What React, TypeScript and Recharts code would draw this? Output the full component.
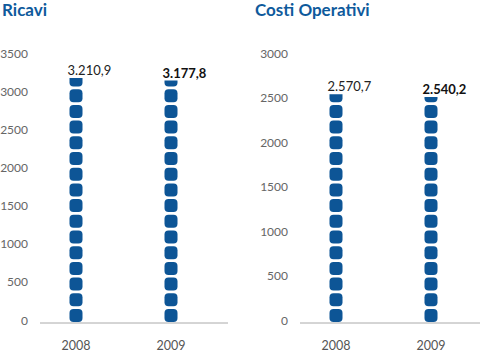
import React from "react";
import { BarChart, Bar, XAxis, YAxis, LabelList } from "recharts";

const years = ["2008", "2009"];
const ricavi = [3210.9, 3177.8];
const costi = [2570.7, 2540.2];
const ricaviTicks = [0, 500, 1000, 1500, 2000, 2500, 3000, 3500];
const costiTicks = [0, 500, 1000, 1500, 2000, 2500, 3000];

const BLUE = "#0d5596";
const FONT = "Lato, 'Open Sans', sans-serif";

// italian number format: 3.210,9
function fmt(v: number) {
  const [int, dec] = v.toFixed(1).split(".");
  const withDots = int.replace(/\B(?=(\d{3})+(?!\d))/g, ".");
  return `${withDots},${dec}`;
}

// stack of rounded squares, clipped at the bar's top
function DotStack(props: any) {
  const { x, y, width, height, index, chartId } = props;
  if (height == null || height <= 0) return null;
  const size = 13, pitch = 15.7, r = 4;
  const cx = x + width / 2;
  const bottom = y + height - 1;
  const id = `clip-${chartId}-${index}`;
  const rects = [];
  for (let b = bottom, k = 0; b > y; b -= pitch, k++) {
    rects.push(
      <rect key={k} x={cx - size / 2} y={b - size} width={size} height={size} rx={r} ry={r} fill={BLUE} />
    );
  }
  return (
    <g>
      <defs>
        <clipPath id={id}>
          <rect x={cx - 10} y={y} width={20} height={height + 2} />
        </clipPath>
      </defs>
      <g clipPath={`url(#${id})`}>{rects}</g>
    </g>
  );
}

function YTick({ x, y, payload }: any) {
  return (
    <text x={x} y={y - 3} textAnchor="end" dominantBaseline="central" fontSize={12} fill="#666" fontFamily={FONT}>
      {payload.value}
    </text>
  );
}

function XTick({ x, y, payload }: any) {
  return (
    <text x={x} y={y + 22} textAnchor="middle" dominantBaseline="central" fontSize={12.5} fill="#555" fontFamily={FONT}>
      {payload.value}
    </text>
  );
}

function ValueLabel({ x, y, index, value }: any) {
  return (
    <text x={x - 2} y={y - 8} textAnchor="start" dominantBaseline="central" fontSize={13}
      fontWeight={index === 1 ? 700 : 400} fill={index === 1 ? "#111" : "#222"} fontFamily={FONT}>
      {fmt(value)}
    </text>
  );
}

function Panel({ id, values, ticks, yWidth, right, padRight }: any) {
  const data = years.map((y, i) => ({ year: y, value: values[i] }));
  return (
    <BarChart width={240} height={352} data={data} margin={{ top: 56, right, bottom: 0, left: 0 }}>
      <XAxis dataKey="year" height={29} tickSize={0} tickMargin={0}
        axisLine={{ stroke: "#aaa" }} tickLine={false} tick={<XTick />}
        padding={{ left: -11.5, right: padRight }} />
      <YAxis width={yWidth} domain={[0, ticks[ticks.length - 1]]} ticks={ticks}
        axisLine={false} tickLine={false} tickSize={0} tickMargin={12} tick={<YTick />} />
      <Bar dataKey="value" barSize={13} isAnimationActive={false}
        shape={(p: any) => <DotStack {...p} chartId={id} />}>
        <LabelList dataKey="value" content={<ValueLabel />} />
      </Bar>
    </BarChart>
  );
}

export default function App() {
  const title = { position: "absolute" as const, top: 0, fontFamily: FONT, fontWeight: 700, fontSize: 17, color: "#0e5a9c", lineHeight: "20px" };
  return (
    <div style={{ position: "absolute", left: 0, top: 0, width: 480, height: 352, background: "#fff" }}>
      <div style={{ ...title, left: 2 }}>Ricavi</div>
      <div style={{ ...title, left: 255 }}>Costi Operativi</div>
      <div style={{ position: "absolute", left: 0, top: 0 }}>
        <Panel id="ric" values={ricavi} ticks={ricaviTicks} yWidth={40} right={12} padRight={9.5} />
      </div>
      <div style={{ position: "absolute", left: 240, top: 0 }}>
        <Panel id="cos" values={costi} ticks={costiTicks} yWidth={60} right={0} padRight={1.5} />
      </div>
    </div>
  );
}
